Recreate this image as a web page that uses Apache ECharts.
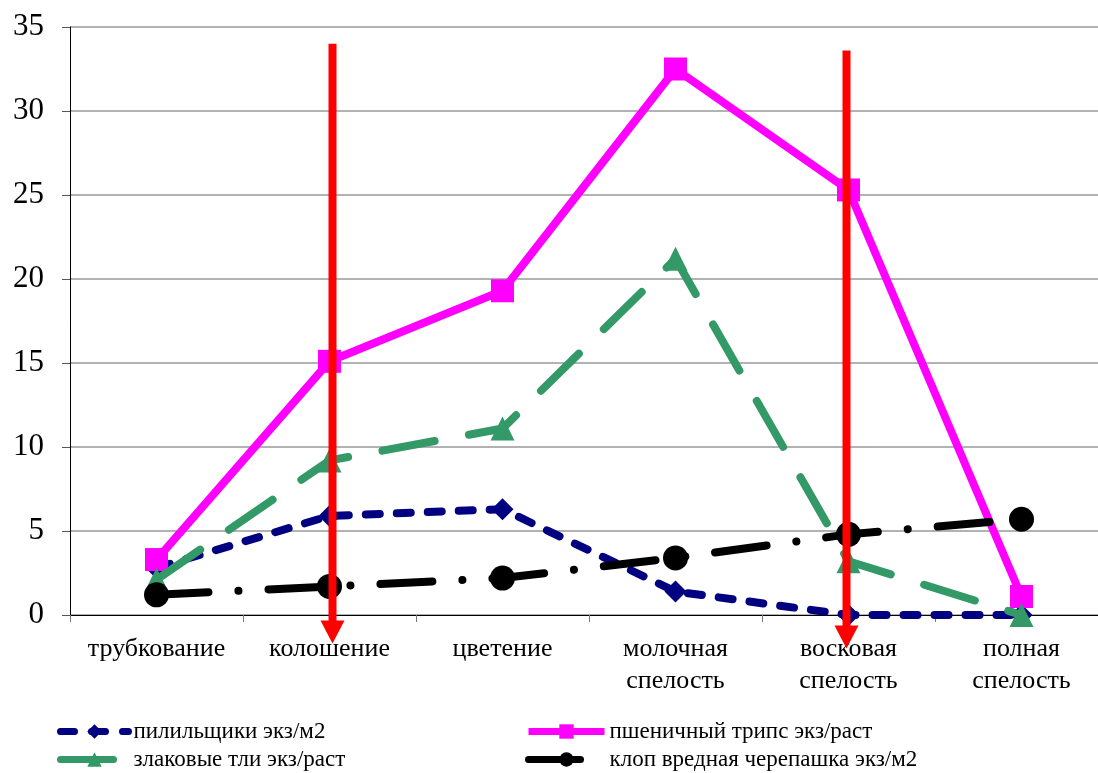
<!DOCTYPE html>
<html>
<head>
<meta charset="utf-8">
<script src="https://cdn.jsdelivr.net/npm/echarts@6/dist/echarts.min.js"></script>
<style>html,body{margin:0;padding:0;background:#fff;overflow:hidden;width:1098px;height:773px}#c{width:1108px;height:773px}</style>
</head>
<body>
<div id="c"></div>
<script>
const categories = ['трубкование', 'колошение', 'цветение', 'молочная\nспелость', 'восковая\nспелость', 'полная\nспелость'];
const yTicks = [0, 5, 10, 15, 20, 25, 30, 35];
const seriesNames = ['пилильщики экз/м2', 'пшеничный трипс экз/раст', 'злаковые тли экз/раст', 'клоп вредная черепашка экз/м2'];
const sawflies = [2.8, 5.9, 6.3, 1.4, 0, 0];
const thrips = [3.3, 15.1, 19.3, 32.5, 25.3, 1.1];
const aphids = [2.1, 9.2, 11.1, 21.2, 3.2, 0];
const bug = [1.2, 1.7, 2.2, 3.4, 4.8, 5.7];
// arrows: category, top value, tip value, x shift
const arrows = [['колошение', 34.0, -1.7, 3], ['восковая\nспелость', 33.6, -2.0, -2]];

const FONT = '"Liberation Serif", "Times New Roman", serif';
const chart = echarts.init(document.getElementById('c'), null, {renderer: 'canvas', width: 1108, height: 773});
const legendText = {fontSize: 23, fontFamily: FONT, color: '#000'};
function lg(name, left, top, w) {
  return {data: [name], orient: 'horizontal', left: left, top: top, itemWidth: w, itemHeight: 18, itemGap: 0,
          textStyle: legendText, selectedMode: false, padding: 0, lineStyle: {width: 7}};
}
const option = {
  animation: false,
  backgroundColor: '#fff',
  textStyle: {fontFamily: FONT},
  grid: {left: 70, top: 27, right: 0, bottom: 158, containLabel: false},
  xAxis: {
    type: 'category', data: categories, boundaryGap: true,
    axisLine: {lineStyle: {color: '#000', width: 1}},
    axisTick: {show: true, length: 7, lineStyle: {color: '#777'}},
    axisLabel: {color: '#000', fontSize: 26, fontFamily: FONT, margin: 18, lineHeight: 32, interval: 0}
  },
  yAxis: {
    type: 'value', min: yTicks[0], max: yTicks[yTicks.length - 1], interval: 5,
    axisLine: {show: true, lineStyle: {color: '#000', width: 1}},
    axisTick: {show: true, length: 8, lineStyle: {color: '#555'}},
    axisLabel: {color: '#000', fontSize: 31, fontFamily: FONT, margin: 26},
    splitLine: {show: true, lineStyle: {color: '#999', width: 1.5}}
  },
  legend: [
    lg(seriesNames[0], 57, 720, 68),
    lg(seriesNames[2], 57, 748, 68),
    lg(seriesNames[1], 525, 720, 76),
    lg(seriesNames[3], 525, 748, 76)
  ],
  series: [
    {name: seriesNames[0], type: 'line', data: sawflies, symbol: 'diamond', symbolSize: 22, z: 2,
     itemStyle: {color: '#000080'}, lineStyle: {color: '#000080', width: 8, type: [14, 17], cap: 'round'}},
    {name: seriesNames[1], type: 'line', data: thrips, symbol: 'rect', symbolSize: 23, z: 3,
     itemStyle: {color: '#FF00FF'}, lineStyle: {color: '#FF00FF', width: 8, type: 'solid'}},
    {name: seriesNames[2], type: 'line', data: aphids, symbol: 'triangle', symbolSize: 24, z: 4,
     itemStyle: {color: '#339966'}, lineStyle: {color: '#339966', width: 8, type: [53, 35], cap: 'round'}},
    {name: seriesNames[3], type: 'line', data: bug, symbol: 'circle', symbolSize: 25, z: 5,
     itemStyle: {color: '#000'}, lineStyle: {color: '#000', width: 8, type: [52, 30, 0.1, 30], cap: 'round'}}
  ]
};
chart.setOption(option);

const g = [];
arrows.forEach(a => {
  const top = chart.convertToPixel({xAxisIndex: 0, yAxisIndex: 0}, [a[0], a[1]]);
  const tip = chart.convertToPixel({xAxisIndex: 0, yAxisIndex: 0}, [a[0], a[2]]);
  const x = top[0] + a[3];
  const headH = 23, headW = 12;
  g.push({type: 'rect', z: 100, shape: {x: x - 4, y: top[1], width: 8, height: tip[1] - headH - top[1] + 1}, style: {fill: '#FF0000'}});
  g.push({type: 'polygon', z: 100, shape: {points: [[x - headW, tip[1] - headH], [x + headW, tip[1] - headH], [x, tip[1]]]}, style: {fill: '#FF0000'}});
});
chart.setOption({graphic: g});
</script>
</body>
</html>
